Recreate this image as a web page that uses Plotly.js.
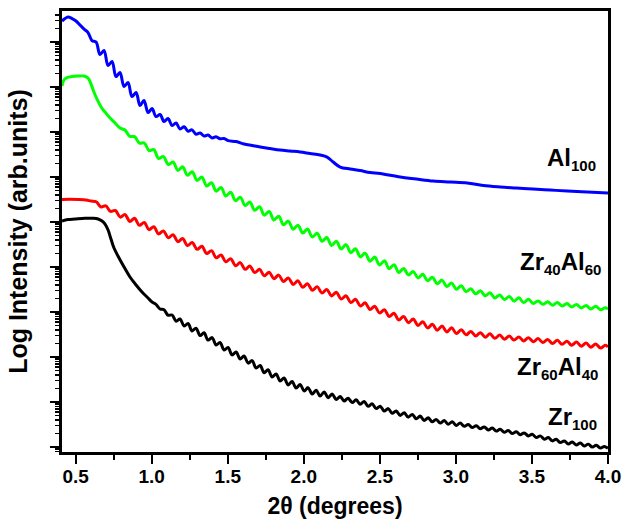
<!DOCTYPE html>
<html>
<head>
<meta charset="utf-8">
<script src="https://cdn.plot.ly/plotly-3.0.1.min.js"></script>
<style>html,body{margin:0;padding:0;background:#fff;}#chart{width:633px;height:519px;}</style>
</head>
<body>
<div id="chart"></div>
<script>
// ---- Data (2θ in degrees, intensity as log10 of arbitrary units) ----
var thetaAl100 = [0.410,0.430,0.449,0.476,0.502,0.528,0.555,
  0.581,0.607,0.634,0.660,0.686,0.713,0.739,0.765,0.791,0.818,0.844,0.870,0.897,0.923,0.949,0.976,1.002,1.028,1.055,1.081,1.107,1.134,1.160,1.186,1.213,1.239,1.265,1.291,1.318,1.344,1.370,1.397,1.423,1.449,1.476,1.502,
  1.555,1.607,1.660,1.713,1.778,1.844,1.910,1.976,2.041,2.107,2.153,2.193,2.239,2.305,2.370,2.436,2.502,2.634,2.739,2.851,2.963,3.074,3.180,3.291,3.396,3.508,3.620,3.732,3.864,4.0];
var logAl100 = [9.467,9.522,9.556,9.522,9.467,9.378,9.289,
  9.211,9.033,9.0,8.722,8.811,8.478,8.567,8.233,8.322,8.011,8.1,7.789,7.878,7.589,7.7,7.433,7.522,7.344,7.389,7.233,7.3,7.144,7.2,7.067,7.116,7.018,7.049,6.951,6.978,6.911,6.933,6.867,6.896,6.849,6.858,6.809,
  6.789,6.733,6.7,6.667,6.633,6.6,6.578,6.556,6.522,6.489,6.444,6.333,6.222,6.178,6.144,6.1,6.078,6.0,5.956,5.911,5.889,5.867,5.811,5.778,5.756,5.733,5.711,5.689,5.667,5.644];

var thetaFringeGrid = [0.824,0.856,0.887,0.919,0.951,0.982,1.014,1.045,1.077,1.109,
  1.140,1.172,1.203,1.235,1.266,1.298,1.330,1.361,1.393,1.424,
  1.456,1.487,1.519,1.551,1.582,1.614,1.645,1.677,1.709,1.740,
  1.772,1.803,1.835,1.866,1.898,1.930,1.961,1.993,2.024,2.056,
  2.088,2.119,2.151,2.182,2.214,2.245,2.277,2.309,2.340,2.372,
  2.403,2.435,2.466,2.498,2.530,2.561,2.593,2.624,2.656,2.688,
  2.719,2.751,2.782,2.814,2.845,2.877,2.909,2.940,2.972,3.003,
  3.035,3.067,3.098,3.130,3.161,3.193,3.224,3.256,3.288,3.319,
  3.351,3.382,3.414,3.445,3.477,3.509,3.540,3.572,3.603,3.635,
  3.667,3.698,3.730,3.761,3.793,3.824,3.856,3.887,3.919,3.951,
  3.982,4.0];

var thetaZr40Al60Start = [0.410,0.423,0.443,0.476,0.515,0.555,0.581,0.601,0.620,0.640,0.667,0.693,0.726,0.759,0.791];
var logZr40Al60 = [8.022,8.156,8.211,8.233,8.244,8.244,8.2,8.067,7.889,7.733,7.556,7.444,7.311,7.2,7.089,
  7.044,6.904,6.898,6.753,6.756,6.589,6.607,6.413,6.453,6.278,
  6.333,6.147,6.227,6.04,6.116,5.924,5.998,5.8,5.873,5.687,
  5.767,5.58,5.66,5.473,5.553,5.367,5.447,5.26,5.34,5.153,
  5.233,5.047,5.127,4.94,5.02,4.84,4.931,4.756,4.844,4.667,
  4.751,4.571,4.656,4.478,4.573,4.402,4.498,4.32,4.404,4.224,
  4.309,4.131,4.222,4.047,4.138,3.962,4.053,3.878,3.967,3.822,
  3.902,3.758,3.838,3.693,3.771,3.629,3.709,3.567,3.647,3.504,
  3.584,3.453,3.516,3.404,3.471,3.36,3.427,3.313,3.38,3.276,
  3.347,3.242,3.316,3.209,3.282,3.189,3.247,3.171,3.227,3.151,
  3.209,3.133,3.189,3.113,3.169,3.091,3.147,3.069,3.127,3.049,
  3.093,3.067];

var thetaZr60Al40Start = [0.410,0.463,0.515,0.568,0.601,0.635,0.666,0.698,0.729,0.761,0.793];
var logZr60Al40 = [5.5,5.504,5.5,5.489,5.467,5.451,5.333,5.358,5.236,5.256,5.109,
  5.167,5.013,5.082,4.927,4.991,4.831,4.896,4.736,4.802,4.649,
  4.718,4.564,4.633,4.478,4.547,4.393,4.46,4.3,4.364,4.204,
  4.269,4.116,4.184,4.029,4.098,3.949,4.024,3.876,3.949,3.804,
  3.884,3.742,3.82,3.678,3.756,3.613,3.693,3.549,3.629,3.484,
  3.564,3.422,3.502,3.358,3.438,3.289,3.36,3.211,3.282,3.133,
  3.204,3.056,3.127,2.978,3.051,2.9,2.973,2.822,2.902,2.762,
  2.844,2.702,2.784,2.644,2.727,2.596,2.687,2.558,2.651,2.52,
  2.607,2.493,2.569,2.467,2.542,2.44,2.516,2.416,2.487,2.396,
  2.467,2.376,2.447,2.358,2.427,2.338,2.409,2.32,2.389,2.3,
  2.371,2.282,2.351,2.262,2.331,2.24,2.309,2.218,2.289,2.198,
  2.26,2.222];

var thetaZr100 = [0.410,0.449,0.495,0.561,0.614,0.647,0.673,0.693,0.713,0.732,0.752,0.778,0.818,0.857,0.897,0.936,0.976,1.002,
  1.028,1.055,1.081,1.107,1.134,1.160,1.186,1.213,1.239,1.265,
  1.291,1.318,1.344,1.370,1.397,1.423,1.449,1.476,1.502,1.528,
  1.555,1.581,1.607,1.634,1.660,1.686,1.713,1.739,1.765,1.791,
  1.818,1.844,1.870,1.897,1.923,1.949,1.976,2.002,2.028,2.055,
  2.081,2.107,2.134,2.160,2.186,2.213,2.239,2.265,2.291,2.318,
  2.344,2.370,2.397,2.423,2.449,2.476,2.502,2.528,2.555,2.581,
  2.607,2.634,2.660,2.686,2.713,2.739,2.765,2.791,2.818,2.844,
  2.870,2.897,2.923,2.949,2.976,3.002,3.028,3.055,3.081,3.107,
  3.134,3.160,3.186,3.213,3.239,3.265,3.291,3.318,3.344,3.370,
  3.397,3.423,3.449,3.476,3.502,3.528,3.555,3.581,3.607,3.634,
  3.660,3.686,3.713,3.739,3.765,3.791,3.818,3.844,3.870,3.897,
  3.923,3.949,3.976,4.0];
var logZr100 = [5.022,5.056,5.067,5.082,5.082,5.067,5.022,4.956,4.822,4.622,4.422,4.244,4.0,3.778,3.6,3.444,3.311,3.222,
  3.171,3.067,3.051,2.929,2.933,2.796,2.844,2.689,2.747,2.58,
  2.64,2.478,2.538,2.376,2.431,2.267,2.322,2.156,2.213,2.047,
  2.111,1.956,2.022,1.864,1.92,1.756,1.811,1.651,1.716,1.556,
  1.622,1.467,1.533,1.38,1.458,1.311,1.389,1.244,1.32,1.176,
  1.264,1.133,1.224,1.093,1.176,1.056,1.12,1.022,1.084,0.987,
  1.049,0.951,1.011,0.904,0.96,0.853,0.907,0.8,0.853,0.749,
  0.802,0.702,0.762,0.664,0.724,0.627,0.687,0.589,0.649,0.56,
  0.613,0.533,0.587,0.507,0.56,0.48,0.533,0.46,0.5,0.433,
  0.473,0.407,0.447,0.38,0.42,0.353,0.393,0.327,0.367,0.3,
  0.34,0.273,0.313,0.247,0.284,0.211,0.247,0.173,0.209,0.136,
  0.171,0.098,0.136,0.069,0.111,0.047,0.087,0.022,0.064,-0.002,
  0.04,-0.024,0.011,-0.029];

var seriesLabels = [['Al', '100'], ['Zr', '40', 'Al', '60'], ['Zr', '60', 'Al', '40'], ['Zr', '100']];
var xTickVals = [0.5,1.0,1.5,2.0,2.5,3.0,3.5,4.0];
var xTickText = ['0.5','1.0','1.5','2.0','2.5','3.0','3.5','4.0'];

// ---- Build traces ----
function lin(v){ return v.map(function(a){ return Math.pow(10, a); }); }
var thetaZr40Al60 = thetaZr40Al60Start.concat(thetaFringeGrid);
var thetaZr60Al40 = thetaZr60Al40Start.concat(thetaFringeGrid);

function labelHtml(parts){
  var s = '';
  for (var i = 0; i < parts.length; i += 2) {
    s += parts[i] + '<sub><span style="font-size:15px">' + parts[i+1] + '</span></sub>';
  }
  return s;
}
var FONT = 'Liberation Sans, Arial, Helvetica, sans-serif';
function tr(x, y, color, name){
  return {x: x, y: lin(y), type: 'scatter', mode: 'lines', name: name,
    line: {color: color, width: 3, shape: 'spline', smoothing: 1}, hoverinfo: 'skip'};
}
var data = [
  tr(thetaAl100, logAl100, '#0000ff', 'Al100'),
  tr(thetaZr40Al60, logZr40Al60, '#00ff00', 'Zr40Al60'),
  tr(thetaZr60Al40, logZr60Al40, '#ff0000', 'Zr60Al40'),
  tr(thetaZr100, logZr100, '#000000', 'Zr100')
];

var labelFont = {family: FONT, size: 24, color: '#000', weight: 'bold'};
var labelPos = [[0.982, 0.665], [0.990, 0.428], [0.986, 0.19], [0.984, 0.078]];
var annotations = seriesLabels.map(function(p, i){
  return {text: labelHtml(p), xref: 'paper', yref: 'paper', x: labelPos[i][0], y: labelPos[i][1],
    xanchor: 'right', yanchor: 'middle', showarrow: false, font: labelFont};
});

var layout = {
  width: 633, height: 519,
  margin: {l: 62, r: 25, t: 11, b: 67},
  paper_bgcolor: '#fff', plot_bgcolor: '#fff',
  showlegend: false,
  font: {family: FONT, color: '#000'},
  xaxis: {
    range: [0.41, 4.0], tickvals: xTickVals, ticktext: xTickText,
    ticks: 'outside', ticklen: 9, tickwidth: 2, tickcolor: '#000',
    ticklabelstandoff: -4,
    minor: {ticks: 'outside', ticklen: 5, tickwidth: 2, tickcolor: '#000', dtick: 0.25, tick0: 0.25},
    showline: true, linewidth: 3, linecolor: '#000', mirror: true,
    showgrid: false, zeroline: false,
    tickfont: {family: FONT, size: 19, color: '#000', weight: 'bold'},
    title: {text: '2θ (degrees)', font: {family: FONT, size: 23, color: '#000', weight: 'bold'}, standoff: 14}
  },
  yaxis: {
    type: 'log', range: [-0.111, 9.69], dtick: 1,
    showticklabels: false,
    ticks: 'outside', ticklen: 9, tickwidth: 2, tickcolor: '#000',
    minor: {ticks: 'outside', ticklen: 4, tickwidth: 1.5, tickcolor: '#000', dtick: 'D1'},
    showline: true, linewidth: 3, linecolor: '#000', mirror: true,
    showgrid: false, zeroline: false,
    title: {text: 'Log Intensity (arb.units)', font: {family: FONT, size: 25, color: '#000', weight: 'bold'}, standoff: 16}
  },
  annotations: annotations
};

Plotly.newPlot('chart', data, layout, {staticPlot: true, displayModeBar: false});
</script>
</body>
</html>
